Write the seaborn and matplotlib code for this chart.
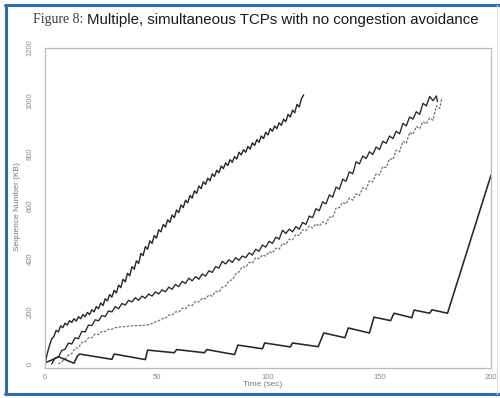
import matplotlib
matplotlib.use("Agg")
import matplotlib.pyplot as plt
import seaborn as sns
import pandas as pd
from matplotlib.lines import Line2D

sns.set_style("white")
plt.rcParams['font.family'] = ['Liberation Sans', 'DejaVu Sans']

# ---- data ----
tcp1_t = [0,1,2,3,4,5,6,7,8,9,10,11,12,13,14,15,16,17,18,19,20,21,22,23,24,25,26,27,28,29,
          30,31,32,33,34,35,36,37,38,39,40,41,42,43,44,45,46,47,48,49,50,51,52,53,54,55,56,57,58,59,
          60,61,62,63,64,65,66,67,68,69,70,71,72,73,74,75,76,77,78,79,80,81,82,83,84,85,86,87,88,89,
          90,91,92,93,94,95,96,97,98,99,100,101,102,103,104,105,106,107,108,109,110,111,112,113,114,115,116]
tcp1_kb = [0,40,70,95,105,128,122,145,138,155,148,165,158,172,163,180,172,188,180,196,188,206,198,218,210,232,222,248,240,264,
           254,280,270,300,290,322,312,345,335,370,360,392,382,420,412,446,436,468,458,488,478,510,502,530,520,548,538,566,556,585,
           575,604,594,622,612,640,630,658,648,676,666,692,682,706,696,722,712,736,726,752,742,764,754,776,766,788,778,804,794,814,
           804,826,816,840,830,852,842,866,856,880,870,894,884,904,894,916,906,930,920,948,938,964,954,986,976,1008,1022]

tcp2_t = [3,4.5,6,7.5,9,10.5,12,13.5,15,16.5,18,19.5,21,22.5,24,25.5,27,28.5,30,31.5,33,34.5,36,37.5,39,40.5,42,43.5,45,46.5,
          48,49.5,51,52.5,54,55.5,57,58.5,60,61.5,63,64.5,66,67.5,69,70.5,72,73.5,75,76.5,78,79.5,81,82.5,84,85.5,87,88.5,90,91.5,
          93,94.5,96,97.5,99,100.5,102,103.5,105,106.5,108,109.5,111,112.5,114,115.5,117,118.5,120,121.5,123,124.5,126,127.5,129,130.5,
          132,133.5,135,136.5,138,139.5,141,142.5,144,145.5,147,148.5,150,151.5,153,154.5,156,157.5,159,160.5,162,163.5,165,166.5,168,
          169.5,171,172.5,174,175.5,176]
tcp2_kb = [0,22,26,52,56,80,76,100,96,124,122,148,146,168,164,184,180,202,198,218,210,230,224,242,236,252,242,258,250,266,
           258,274,266,282,274,292,284,302,294,314,306,326,316,332,322,342,334,354,348,370,364,390,380,396,386,404,394,410,404,422,
           414,436,428,452,444,466,458,482,474,508,496,512,502,522,512,538,530,562,556,590,582,616,608,642,634,672,
           664,702,694,730,722,768,760,790,780,806,796,824,814,846,838,866,856,884,874,914,904,938,930,958,948,
           990,980,1016,1000,1018,996]

tcp3_t = [6,7.5,9,10.5,12,13.5,15,16.5,18,19.5,21,22.5,24,25.5,27,28.5,30,31.5,33,34.5,36,37.5,39,40.5,42,43.5,45,46.5,
          48,49.5,51,52.5,54,55.5,57,58.5,60,61.5,63,64.5,66,67.5,69,70.5,72,73.5,75,76.5,78,79.5,81,82.5,84,85.5,87,88.5,90,91.5,
          93,94.5,96,97.5,99,100.5,102,103.5,105,106.5,108,109.5,111,112.5,114,115.5,117,118.5,120,121.5,123,124.5,126,127.5,129,130.5,
          132,133.5,135,136.5,138,139.5,141,142.5,144,145.5,147,148.5,150,151.5,153,154.5,156,157.5,159,160.5,162,163.5,165,166.5,168,
          169.5,171,172.5,174,175.5,177,178]
tcp3_kb = [0,8,20,34,40,60,62,82,84,100,100,114,112,124,124,132,132,138,140,142,142,144,145,146,146,147,148,150,
           154,160,164,172,174,186,186,198,198,212,210,224,222,238,236,250,248,262,258,276,274,292,296,316,320,342,350,370,368,386,
           384,404,400,414,410,426,422,440,436,458,454,474,472,492,488,510,506,524,516,532,524,540,532,558,556,592,
           594,614,608,630,622,646,640,670,664,696,692,722,718,750,746,780,776,812,806,846,838,880,872,902,894,
           920,912,934,926,980,970,1012]

tcp4_t = [0,3,6,13,14.5,15.5,30,31,45,46,58,59,71.5,72.5,85,86.5,97.5,98.5,110,111,122.5,125,134.5,136,
          145.5,147.5,155,156.5,164.5,165.5,172.5,173.5,180.5,200]
tcp4_kb = [5,15,28,3,30,38,18,38,17,53,43,55,43,55,36,72,58,80,65,80,66,118,100,137,
           118,178,165,193,176,205,193,206,193,717]

x_ticks = [0, 50, 100, 150, 200]
y_ticks = [0, 200, 400, 600, 800, 1000, 1200]
title_prefix = "Figure 8:"
title_main = "Multiple, simultaneous TCPs with no congestion avoidance"
x_label = "Time (sec)"
y_label = "Sequence Number (KB)"

# ---- figure ----
W, H = 500, 398
fig = plt.figure(figsize=(W / 100, H / 100), dpi=100)
fig.patch.set_facecolor("white")
ax = fig.add_axes([45 / W, 1 - 368 / H, (491 - 45) / W, (368 - 48) / H])

series = [
    (tcp1_t, tcp1_kb, dict(color="#262626", linewidth=1.0)),
    (tcp2_t, tcp2_kb, dict(color="#262626", linewidth=0.95)),
    (tcp3_t, tcp3_kb, dict(color="#707070", linewidth=0.9, linestyle=(0, (2.0, 1.2)))),
    (tcp4_t, tcp4_kb, dict(color="#262626", linewidth=1.15)),
]
for t, kb, style in series:
    df = pd.DataFrame({"t": t, "kb": kb})
    sns.lineplot(data=df, x="t", y="kb", ax=ax, estimator=None, sort=False, **style)

ax.set_xlim(0, 200)
ax.set_ylim(-15, 1200)
ax.set_xticks(x_ticks)
ax.set_yticks(y_ticks)
ax.set_xticklabels([str(v) for v in x_ticks])
ax.set_yticklabels([str(v) for v in y_ticks], rotation=90, va="center")
ax.tick_params(axis="both", direction="in", length=3, width=0.6, color="#aaaaaa",
               labelsize=5.5, labelcolor="#8a8a8a")
ax.tick_params(axis="y", pad=8)
ax.tick_params(axis="x", pad=4)
for sp in ax.spines.values():
    sp.set_color("#bbbbbb")
    sp.set_linewidth(0.9)
ax.set_xlabel("")
ax.set_ylabel("")

fig.text(263 / W, 1 - 385 / H, x_label, ha="center", va="center", fontsize=6, color="#777777")
fig.text(18 / W, 1 - 207 / H, y_label, ha="center", va="center", rotation=90, fontsize=6, color="#777777")

# title: serif prefix + sans main
t1 = fig.text(33 / W, 1 - 20 / H, title_prefix, ha="left", va="center", fontsize=10,
              family=["Liberation Serif", "DejaVu Serif"], color="#3a3a3a")
fig.canvas.draw()
bb = t1.get_window_extent(fig.canvas.get_renderer())
fig.text((bb.x1 + 4) / W, 1 - 20 / H, title_main, ha="left", va="center", fontsize=10.8,
         color="#1a1a1a")

# blue frame
fig.add_artist(Line2D([6 / W, 6 / W], [1 - 394 / H, 1 - 5 / H], transform=fig.transFigure,
                      color="#2e6db0", linewidth=2.2))
fig.add_artist(Line2D([5 / W, 1], [1 - 5 / H, 1 - 5 / H], transform=fig.transFigure,
                      color="#2e6db0", linewidth=2.2))
fig.add_artist(Line2D([5 / W, 1], [1 - 394 / H, 1 - 394 / H], transform=fig.transFigure,
                      color="#2e6db0", linewidth=2.2))
fig.add_artist(Line2D([497 / W, 497 / W], [1 - 394 / H, 1 - 5 / H], transform=fig.transFigure,
                      color="#dddddd", linewidth=0.8))

fig.savefig("out.png", dpi=100, facecolor="white")
